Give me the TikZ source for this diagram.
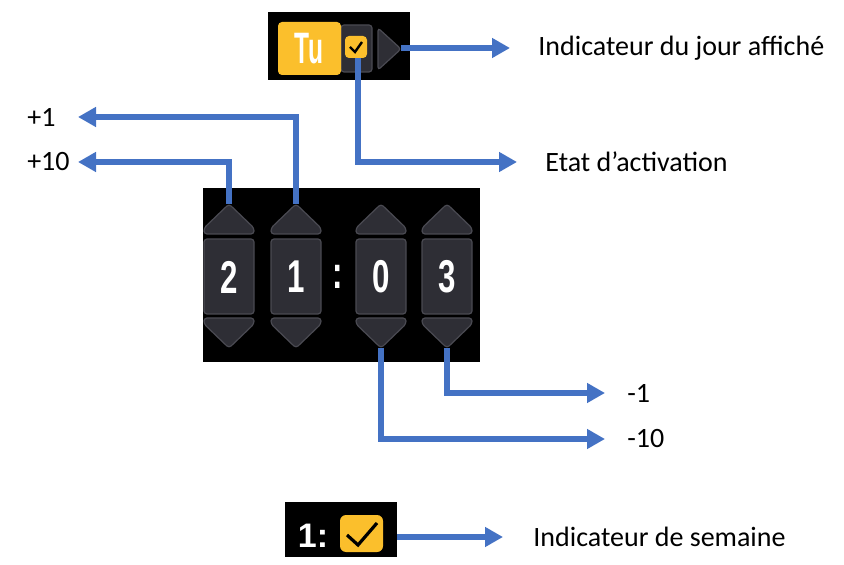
\documentclass[tikz,border=0pt]{standalone}
\usepackage{fontspec}
\setmainfont{Carlito}
\newfontfamily\digitfont{Liberation Sans}
\usetikzlibrary{arrows.meta}
\definecolor{panelgray}{HTML}{2E2E35}
\definecolor{edgegray}{HTML}{4A4A52}
\definecolor{ckyellow}{HTML}{FBBF2C}
\definecolor{linkblue}{HTML}{4472C4}
\tikzset{
  link/.style={linkblue, line width=2.9pt, -{Triangle[length=9pt,width=9.5pt]}},
  lbl/.style={inner sep=0pt, font=\fontsize{14}{16}\selectfont},
  knob/.style={fill=panelgray, draw=edgegray, line width=0.6pt, rounded corners=1.5pt},
  digit/.style={text=white, inner sep=0pt, font=\digitfont\bfseries\fontsize{23}{23}\selectfont, xscale=0.68},
  tick/.style={line width=1.2pt, line join=miter}
}
\begin{document}
\begin{tikzpicture}[x=0.5pt,y=-0.5pt]
    \useasboundingbox (0,0) rectangle (844,565);

    % day panel
    \fill (268,12) rectangle (410,80);
    \draw[knob] (341,25) rectangle (372,72);
    \fill[ckyellow, rounded corners=2pt] (278,22) rectangle (341,75);
    \node[digit, font=\digitfont\bfseries\fontsize{22}{22}\selectfont, xscale=0.82] (tu) at (309,49) {Tu};
    \fill[ckyellow, rounded corners=2pt] (345,36) rectangle (367,58);
    \draw[tick] (350,47) -- (355,52) -- (362,42);
    \draw[knob] (378,28) -- (401,49) -- (378,70) -- cycle;
    \coordinate (daytip) at (401,48);
    \coordinate (daychk) at (358,58);

    % clock panel
    \fill (203,188) rectangle (480,362);
    \foreach \cx/\d/\n in {229/2/1, 296/1/2, 381/0/3, 447/3/4} {
      \draw[knob] (\cx-25,234) -- (\cx-25,228) -- (\cx,204) -- (\cx+25,228) -- (\cx+25,234) -- cycle;
      \draw[knob] (\cx-25,239) rectangle (\cx+25,314);
      \draw[knob] (\cx-25,318) -- (\cx-25,324) -- (\cx,348) -- (\cx+25,324) -- (\cx+25,318) -- cycle;
      \node[digit] (d\n) at (\cx,277) {\d};
      \coordinate (up\n) at (\cx,204);
      \coordinate (dn\n) at (\cx,348);
    }
    \node[digit] (colon) at (338,277) {:};

    % week panel
    \fill (285,502) rectangle (397,557);
    \node[text=white, inner sep=0pt, font=\digitfont\bfseries\fontsize{17}{17}\selectfont] (wk) at (313,536) {1:};
    \fill[ckyellow, rounded corners=3pt] (340,515) rectangle (383,552);
    \draw[tick, line width=1.6pt] (347,535) -- (358,545) -- (377,523);
    \coordinate (wkend) at (397,537);

    % labels
    \node[lbl, anchor=west] (jour) at (538,48) {Indicateur du jour affiché};
    \node[lbl, anchor=west] (etat) at (545,162) {Etat d’activation};
    \node[lbl, anchor=east] (plusone) at (56,117) {+1};
    \node[lbl, anchor=east] (plusten) at (70,162) {+10};
    \node[lbl, anchor=west] (minusone) at (627,393) {-1};
    \node[lbl, anchor=west] (minusten) at (627,439) {-10};
    \node[lbl, anchor=west] (semaine) at (533,537) {Indicateur de semaine};

    % connectors
    \draw[link, shorten >=14pt] (daytip) -- (jour.west);
    \draw[link, shorten >=14pt] (daychk) |- (etat.west);
    \draw[link, shorten >=11pt] (up2) |- (plusone.east);
    \draw[link, shorten >=4pt] (up1) |- (plusten.east);
    \draw[link, shorten >=11pt] (dn4) |- (minusone.west);
    \draw[link, shorten >=11pt] (dn3) |- (minusten.west);
    \draw[link, shorten >=15pt] (wkend) -- (semaine.west);
\end{tikzpicture}
\end{document}
